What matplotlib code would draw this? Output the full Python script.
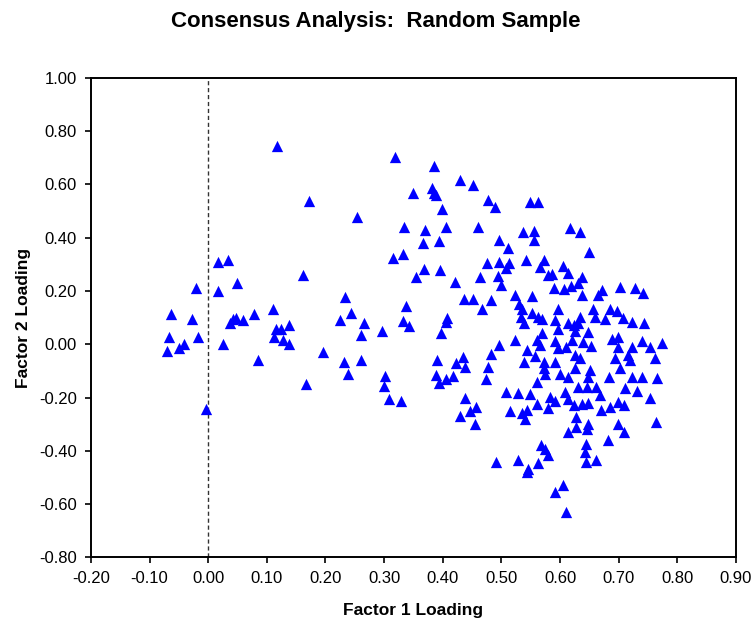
import numpy as np
import matplotlib.pyplot as plt

plt.rcParams['font.family'] = ['Liberation Sans', 'DejaVu Sans']

# factor loadings (factor 1, factor 2)
factor1 = [
    -0.020, 0.016, 0.050, -0.064, -0.027, -0.067, -0.018, -0.070, -0.049, -0.041,
    0.025, -0.003, 0.037, 0.042, 0.048, 0.059, 0.078, 0.111, 0.085, 0.115,
    0.125, 0.137, 0.113, 0.127, 0.138, 0.167, 0.118, 0.172, 0.016, 0.033,
    0.162,
    0.318, 0.385, 0.429, 0.451, 0.350, 0.382, 0.385, 0.389, 0.478, 0.489,
    0.253, 0.399, 0.334, 0.369, 0.405, 0.460, 0.367, 0.394, 0.496, 0.511,
    0.315, 0.333, 0.368, 0.396, 0.355, 0.421, 0.464, 0.475, 0.496, 0.513,
    0.508, 0.494, 0.499,
    0.233, 0.244, 0.225, 0.266, 0.261, 0.296, 0.196, 0.231, 0.260, 0.239,
    0.301, 0.300, 0.308, 0.328, 0.338, 0.333, 0.343, 0.407, 0.405, 0.397,
    0.436, 0.452, 0.482, 0.467, 0.391, 0.422, 0.435, 0.438, 0.389, 0.405,
    0.417, 0.394, 0.438, 0.456, 0.447, 0.430, 0.455, 0.482, 0.496, 0.478,
    0.473, 0.508, 0.514,
    0.549, 0.562, 0.536, 0.556, 0.556, 0.617, 0.634, 0.649, 0.542, 0.573,
    0.565, 0.605, 0.580, 0.587, 0.613, 0.637, 0.630, 0.619, 0.589, 0.606,
    0.523, 0.552, 0.671, 0.702, 0.727, 0.742, 0.637, 0.664,
    0.530, 0.535, 0.534, 0.552, 0.563, 0.569, 0.538, 0.597, 0.591, 0.596,
    0.614, 0.623, 0.634, 0.631, 0.657, 0.660, 0.676, 0.685, 0.697, 0.708,
    0.723, 0.744, 0.626, 0.648, 0.569, 0.524, 0.560, 0.565, 0.592, 0.597,
    0.620, 0.611, 0.640, 0.653, 0.688, 0.698, 0.699, 0.723, 0.740, 0.753,
    0.774, 0.543, 0.558, 0.538, 0.572, 0.591, 0.626, 0.634, 0.694, 0.716,
    0.719, 0.762, 0.572, 0.575, 0.600, 0.614, 0.626, 0.651, 0.648, 0.702,
    0.683, 0.722, 0.740, 0.765, 0.561,
    0.631, 0.646, 0.662, 0.711, 0.731, 0.529, 0.548, 0.583, 0.608, 0.668,
    0.753, 0.560, 0.580, 0.592, 0.613, 0.623, 0.637, 0.648, 0.670, 0.685,
    0.698, 0.709, 0.535, 0.543, 0.541, 0.628, 0.763, 0.614, 0.628, 0.648,
    0.646, 0.699, 0.709, 0.681, 0.644, 0.642, 0.662, 0.644, 0.568, 0.575,
    0.579, 0.490, 0.529, 0.546, 0.543, 0.562, 0.605, 0.591, 0.611,
]
factor2 = [
    0.210, 0.201, 0.228, 0.113, 0.094, 0.026, 0.028, -0.025, -0.016, -0.001,
    0.000, -0.244, 0.078, 0.094, 0.097, 0.091, 0.112, 0.132, -0.060, 0.057,
    0.059, 0.072, 0.028, 0.015, 0.000, -0.148, 0.742, 0.539, 0.310, 0.316,
    0.260,
    0.702, 0.667, 0.617, 0.598, 0.569, 0.585, 0.567, 0.560, 0.542, 0.516,
    0.479, 0.508, 0.441, 0.429, 0.441, 0.441, 0.379, 0.389, 0.391, 0.362,
    0.322, 0.339, 0.282, 0.278, 0.251, 0.235, 0.251, 0.306, 0.310, 0.304,
    0.285, 0.256, 0.222,
    0.176, 0.116, 0.091, 0.078, 0.034, 0.050, -0.028, -0.066, -0.060, -0.110,
    -0.120, -0.157, -0.207, -0.213, 0.144, 0.088, 0.069, 0.097, 0.084, 0.041,
    0.169, 0.168, 0.166, 0.132, -0.060, -0.072, -0.047, -0.087, -0.116, -0.129,
    -0.119, -0.147, -0.200, -0.235, -0.251, -0.270, -0.300, -0.035, -0.003, -0.087,
    -0.129, -0.181, -0.251,
    0.535, 0.535, 0.422, 0.426, 0.391, 0.435, 0.422, 0.347, 0.316, 0.316,
    0.291, 0.295, 0.260, 0.263, 0.266, 0.253, 0.228, 0.218, 0.210, 0.206,
    0.185, 0.181, 0.203, 0.216, 0.210, 0.191, 0.185, 0.185,
    0.151, 0.131, 0.103, 0.116, 0.103, 0.093, 0.078, 0.131, 0.091, 0.059,
    0.080, 0.072, 0.103, 0.078, 0.131, 0.103, 0.093, 0.131, 0.126, 0.097,
    0.084, 0.080, 0.050, 0.047, 0.043, 0.015, 0.015, -0.003, 0.013, -0.016,
    0.015, -0.010, 0.009, -0.007, 0.018, 0.028, -0.010, -0.012, 0.012, -0.010,
    0.005, -0.022, -0.045, -0.066, -0.066, -0.066, -0.041, -0.050, -0.053, -0.041,
    -0.060, -0.050, -0.091, -0.110, -0.112, -0.122, -0.091, -0.097, -0.122, -0.091,
    -0.122, -0.122, -0.122, -0.125, -0.141,
    -0.160, -0.160, -0.160, -0.166, -0.175, -0.183, -0.188, -0.198, -0.179, -0.191,
    -0.200, -0.223, -0.241, -0.213, -0.204, -0.229, -0.223, -0.220, -0.248, -0.235,
    -0.216, -0.229, -0.258, -0.248, -0.279, -0.273, -0.291, -0.329, -0.310, -0.298,
    -0.317, -0.298, -0.329, -0.358, -0.373, -0.404, -0.433, -0.442, -0.379, -0.392,
    -0.417, -0.442, -0.435, -0.467, -0.479, -0.446, -0.529, -0.555, -0.630,
]

xticks = [-0.2, -0.1, 0.0, 0.1, 0.2, 0.3, 0.4, 0.5, 0.6, 0.7, 0.8, 0.9]
yticks = [-0.8, -0.6, -0.4, -0.2, 0.0, 0.2, 0.4, 0.6, 0.8, 1.0]

fig = plt.figure(figsize=(7.51, 6.27), dpi=100)
ax = fig.add_axes([0.121, 0.111, 0.859, 0.765])

ax.axvline(0, color='#333333', lw=1, linestyle=(0, (3, 2)), zorder=1)
ax.scatter(factor1, factor2, marker='^', s=66, color='#0000ff', linewidths=0, zorder=3)

ax.set_xlim(-0.2, 0.9)
ax.set_ylim(-0.8, 1.0)
ax.set_xticks(xticks)
ax.set_yticks(yticks)
ax.set_xticklabels([f'{v:.2f}' for v in xticks])
ax.set_yticklabels([f'{v:.2f}' for v in yticks])
ax.tick_params(direction='out', length=4, width=1.2, labelsize=12, pad=6)
for sp in ax.spines.values():
    sp.set_linewidth(1.4)

ax.set_xlabel('Factor 1 Loading', fontsize=12.5, fontweight='bold', labelpad=12)
ax.set_ylabel('Factor 2 Loading', fontsize=12.5, fontweight='bold', labelpad=6)
fig.suptitle('Consensus Analysis:  Random Sample', fontsize=16, fontweight='bold', y=0.982)

fig.savefig('out.png', dpi=100)
